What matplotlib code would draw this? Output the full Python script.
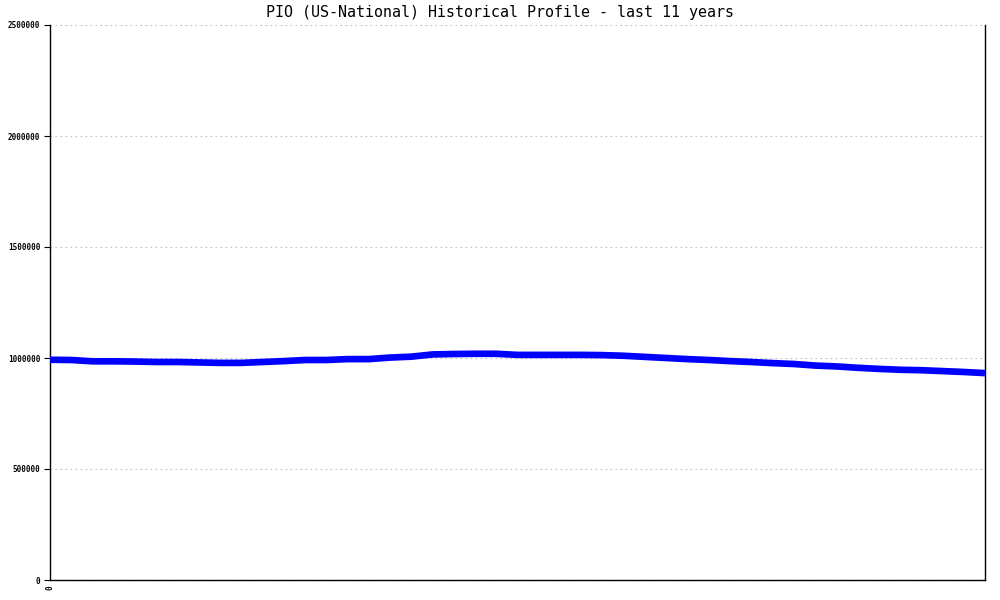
import numpy as np
import matplotlib.pyplot as plt

# quarterly values, last 11 years
values = [992000, 991000, 985000, 985000, 984000, 982000, 982000, 980000,
          978000, 978000, 982000, 986000, 991000, 991000, 995000, 995000,
          1002000, 1006000, 1016000, 1018000, 1019000, 1019000, 1014000, 1014000,
          1014000, 1014000, 1013000, 1010000, 1005000, 1000000, 995000, 991000,
          986000, 982000, 977000, 973000, 966000, 962000, 956000, 951000,
          947000, 945000, 941000, 937000, 932000]
yticks = [0, 500000, 1000000, 1500000, 2000000, 2500000]
title = 'PIO (US-National) Historical Profile - last 11 years'

x = np.arange(len(values))

fig = plt.figure(figsize=(10, 6), dpi=100)
ax = fig.add_axes([0.05, 20 / 600, 0.935, 555 / 600])

ax.plot(x, values, color='#0000ff', linewidth=4.8, solid_capstyle='butt',
        solid_joinstyle='round', zorder=3)

ax.set_xlim(0, len(values) - 1)
ax.set_ylim(0, 2500000)
ax.set_yticks(yticks)
ax.set_yticklabels([str(v) for v in yticks])
ax.set_xticks([0])
ax.set_xticklabels(['0'], rotation=90)

ax.grid(axis='y', color='#c0c0c0', linestyle=(0, (1.5, 3)), linewidth=0.8)
ax.set_axisbelow(True)
ax.spines['top'].set_visible(False)
for s in ['left', 'right', 'bottom']:
    ax.spines[s].set_linewidth(1.0)
    ax.spines[s].set_color('black')

ax.tick_params(axis='y', length=4, width=0.8, pad=3, labelsize=5.5)
ax.tick_params(axis='x', length=0, pad=4, labelsize=5.5)
for lab in ax.get_yticklabels() + ax.get_xticklabels():
    lab.set_family('DejaVu Sans Mono')
    lab.set_fontweight('bold')

fig.text(0.5, 1 - 13 / 600, title, ha='center', va='center',
         family='DejaVu Sans Mono', fontsize=10.8)

fig.savefig('out.png', dpi=100)
